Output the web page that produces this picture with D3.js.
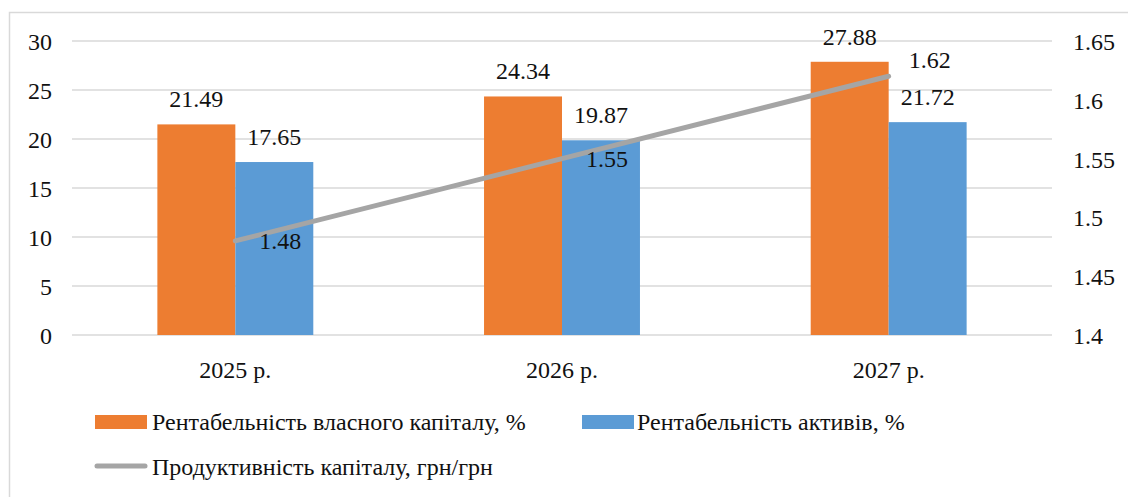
<!DOCTYPE html>
<html>
<head>
<meta charset="utf-8">
<script src="https://cdn.jsdelivr.net/npm/d3@7"></script>
<style>html, body { margin: 0; background: #fff; }</style>
</head>
<body>
<svg id="chart" width="1128" height="497"></svg>
<script>
const categories = ["2025 р.", "2026 р.", "2027 р."];
const roe = [21.49, 24.34, 27.88];
const roa = [17.65, 19.87, 21.72];
const productivity = [1.48, 1.55, 1.62];
const leftTicks = [0, 5, 10, 15, 20, 25, 30];
const rightTicks = [1.4, 1.45, 1.5, 1.55, 1.6, 1.65];
const seriesNames = ["Рентабельність власного капіталу, %", "Рентабельність активів, %", "Продуктивність капіталу, грн/грн"];
const colors = ["#ED7D31", "#5B9BD5", "#A5A5A5"];

const FONT = "'Liberation Serif', 'Times New Roman', Tinos";
const TEXT_COLOR = "#111";
const svg = d3.select("#chart");
const plot = { left: 72, right: 1052, top: 41, bottom: 335 };
const fontSize = 24;

function txt(sel) {
  return sel.style("font-family", FONT).attr("font-size", fontSize).attr("fill", TEXT_COLOR);
}

svg.append("rect").attr("x", 9.5).attr("y", 12.5).attr("width", 1130).attr("height", 500)
  .attr("fill", "#fff").attr("stroke", "#D9D9D9").attr("stroke-width", 1.5);

const x = d3.scaleBand().domain(categories).range([plot.left, plot.right]).padding(0);
const yL = d3.scaleLinear().domain([0, 30]).range([plot.bottom, plot.top]);
const yR = d3.scaleLinear().domain([1.4, 1.65]).range([plot.bottom, plot.top]);

// gridlines
svg.append("g").selectAll("line").data(leftTicks).join("line")
  .attr("x1", plot.left).attr("x2", plot.right)
  .attr("y1", d => yL(d)).attr("y2", d => yL(d))
  .attr("stroke", "#D9D9D9").attr("stroke-width", 1.5);

function styleAxisText(g) {
  g.select(".domain").remove();
  g.attr("font-family", null).attr("font-size", null);
  g.selectAll("text").call(txt).attr("dy", "0.35em");
}

// left axis labels
const leftAxis = d3.axisLeft(yL).tickValues(leftTicks).tickSize(0).tickPadding(0).tickFormat(d3.format("d"));
svg.append("g").attr("transform", `translate(52,0)`).call(leftAxis).call(styleAxisText);

// right axis labels
const rightAxis = d3.axisRight(yR).tickValues(rightTicks).tickSize(0).tickPadding(0).tickFormat(d => String(+d.toFixed(2)));
svg.append("g").attr("transform", `translate(1073,0)`).call(rightAxis).call(styleAxisText);

// category axis
const catAxis = d3.axisBottom(x).tickSize(0).tickPadding(0);
svg.append("g").attr("transform", `translate(0,${plot.bottom + 35})`).call(catAxis).call(styleAxisText);

// bars
const gapWidth = 2.19;
const barW = x.bandwidth() / (2 + gapWidth);
const barSeries = [roe, roa];
barSeries.forEach((vals, si) => {
  const g = svg.append("g");
  g.selectAll("rect").data(vals).join("rect")
    .attr("x", (d, i) => x(categories[i]) + x.bandwidth() / 2 - barW + si * barW)
    .attr("y", d => yL(d))
    .attr("width", barW)
    .attr("height", d => yL(0) - yL(d))
    .attr("fill", colors[si]);
  g.selectAll("text").data(vals).join("text")
    .attr("x", (d, i) => x(categories[i]) + x.bandwidth() / 2 - barW / 2 + si * barW)
    .attr("y", d => yL(d) - 17)
    .attr("text-anchor", "middle")
    .call(txt)
    .text(d => d.toFixed(2));
});

// line
const cx = (d, i) => x(categories[i]) + x.bandwidth() / 2;
const line = d3.line().x(cx).y(d => yR(d));
svg.append("path").datum(productivity).attr("d", line)
  .attr("fill", "none").attr("stroke", colors[2]).attr("stroke-width", 5)
  .attr("stroke-linecap", "round").attr("stroke-linejoin", "round");
svg.append("g").selectAll("text").data(productivity).join("text")
  .attr("x", (d, i) => cx(d, i) + (i === 2 ? 20 : 24))
  .attr("y", (d, i) => yR(d) + (i === 2 ? -17 : 0))
  .attr("dy", "0.35em")
  .call(txt)
  .text(d => d.toFixed(2));

// legend
const lg = svg.append("g");
const row1 = 422, row2 = 467;
const legendX = [95, 582];
lg.append("rect").attr("x", legendX[0]).attr("y", row1 - 7).attr("width", 52).attr("height", 14).attr("fill", colors[0]);
lg.append("text").attr("x", legendX[0] + 57).attr("y", row1).attr("dy", "0.35em").call(txt).text(seriesNames[0]);
lg.append("rect").attr("x", legendX[1]).attr("y", row1 - 7).attr("width", 52).attr("height", 14).attr("fill", colors[1]);
lg.append("text").attr("x", legendX[1] + 55).attr("y", row1).attr("dy", "0.35em").call(txt).text(seriesNames[1]);
lg.append("line").attr("x1", 97).attr("x2", 145).attr("y1", row2 - 1).attr("y2", row2 - 1)
  .attr("stroke", colors[2]).attr("stroke-width", 5).attr("stroke-linecap", "round");
lg.append("text").attr("x", 152).attr("y", row2).attr("dy", "0.35em").call(txt).text(seriesNames[2]);
</script>
</body>
</html>
